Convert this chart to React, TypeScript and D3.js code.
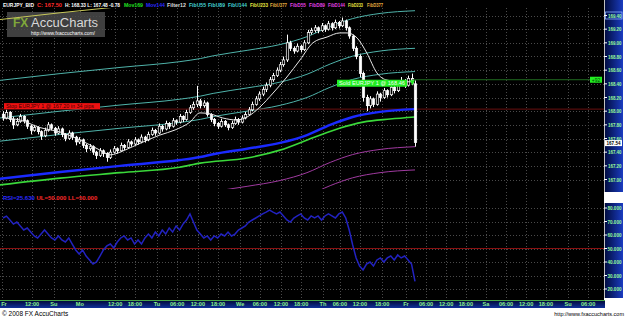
import React from "react";
import * as d3 from "d3";

const W = 625;
const H = 318;

// [open, high, low, close] per hourly bar
const candles: [number, number, number, number][] = [
  [167.95, 168.00, 167.86, 167.90], [167.90, 168.02, 167.88, 167.98], [167.98, 168.00, 167.84, 167.88],
  [167.88, 167.92, 167.74, 167.80], [167.80, 167.90, 167.78, 167.85], [167.85, 167.96, 167.83, 167.92],
  [167.92, 167.94, 167.82, 167.86], [167.86, 167.88, 167.74, 167.78], [167.78, 167.80, 167.66, 167.72],
  [167.72, 167.80, 167.70, 167.76], [167.76, 167.78, 167.66, 167.70], [167.70, 167.72, 167.58, 167.64],
  [167.64, 167.76, 167.62, 167.72], [167.72, 167.84, 167.70, 167.80], [167.80, 167.82, 167.72, 167.75],
  [167.75, 167.77, 167.64, 167.68], [167.68, 167.78, 167.66, 167.74], [167.74, 167.76, 167.62, 167.66],
  [167.66, 167.68, 167.56, 167.60], [167.60, 167.72, 167.58, 167.68], [167.68, 167.70, 167.58, 167.62],
  [167.62, 167.64, 167.50, 167.55], [167.55, 167.62, 167.52, 167.58], [167.58, 167.60, 167.46, 167.50],
  [167.50, 167.52, 167.40, 167.45], [167.45, 167.52, 167.42, 167.48], [167.48, 167.50, 167.36, 167.40],
  [167.40, 167.42, 167.30, 167.35], [167.35, 167.46, 167.33, 167.42], [167.42, 167.44, 167.33, 167.38],
  [167.38, 167.40, 167.26, 167.32], [167.32, 167.44, 167.30, 167.40], [167.40, 167.49, 167.38, 167.45],
  [167.45, 167.47, 167.38, 167.42], [167.42, 167.54, 167.40, 167.50], [167.50, 167.52, 167.43, 167.47],
  [167.47, 167.59, 167.45, 167.55], [167.55, 167.57, 167.48, 167.52], [167.52, 167.62, 167.50, 167.58],
  [167.58, 167.60, 167.51, 167.55], [167.55, 167.66, 167.53, 167.62], [167.62, 167.64, 167.54, 167.58],
  [167.58, 167.70, 167.56, 167.66], [167.66, 167.76, 167.64, 167.72], [167.72, 167.74, 167.64, 167.68],
  [167.68, 167.82, 167.66, 167.78], [167.78, 167.80, 167.70, 167.74], [167.74, 167.86, 167.72, 167.82],
  [167.82, 167.84, 167.74, 167.78], [167.78, 167.90, 167.76, 167.86], [167.86, 167.88, 167.80, 167.84],
  [167.84, 167.96, 167.82, 167.92], [167.92, 167.94, 167.84, 167.88], [167.88, 168.02, 167.86, 167.98],
  [167.98, 168.09, 167.96, 168.05], [168.05, 168.14, 168.02, 168.10], [168.10, 168.37, 168.06, 168.15],
  [168.15, 168.18, 168.04, 168.08], [168.08, 168.16, 168.05, 168.12], [168.12, 168.14, 167.92, 167.95],
  [167.95, 167.97, 167.84, 167.88], [167.88, 167.90, 167.78, 167.82], [167.82, 167.84, 167.74, 167.78],
  [167.78, 167.89, 167.76, 167.85], [167.85, 167.87, 167.77, 167.80], [167.80, 167.82, 167.72, 167.76],
  [167.76, 167.86, 167.74, 167.82], [167.82, 167.92, 167.80, 167.88], [167.88, 167.90, 167.80, 167.84],
  [167.84, 167.94, 167.82, 167.90], [167.90, 167.99, 167.88, 167.95], [167.95, 168.06, 167.93, 168.02],
  [168.02, 168.14, 168.00, 168.10], [168.10, 168.22, 168.08, 168.18], [168.18, 168.29, 168.15, 168.25],
  [168.25, 168.36, 168.22, 168.32], [168.32, 168.42, 168.28, 168.38], [168.38, 168.50, 168.35, 168.46],
  [168.46, 168.56, 168.43, 168.52], [168.52, 168.64, 168.50, 168.60], [168.60, 168.72, 168.57, 168.68],
  [168.68, 168.80, 168.65, 168.75], [168.75, 169.12, 168.72, 169.00], [169.00, 169.03, 168.88, 168.92],
  [168.92, 168.95, 168.84, 168.88], [168.88, 168.99, 168.86, 168.95], [168.95, 168.97, 168.86, 168.90],
  [168.90, 169.04, 168.88, 169.00], [169.00, 169.19, 168.98, 169.15], [169.15, 169.22, 169.12, 169.18],
  [169.18, 169.26, 169.15, 169.22], [169.22, 169.24, 169.14, 169.18], [169.18, 169.29, 169.16, 169.25],
  [169.25, 169.27, 169.16, 169.20], [169.20, 169.32, 169.18, 169.28], [169.28, 169.30, 169.18, 169.22],
  [169.22, 169.34, 169.20, 169.30], [169.30, 169.32, 169.21, 169.25], [169.25, 169.37, 169.23, 169.32],
  [169.32, 169.34, 169.18, 169.22], [169.22, 169.24, 169.06, 169.10], [169.10, 169.12, 168.88, 168.92],
  [168.92, 168.95, 168.76, 168.80], [168.80, 168.83, 168.50, 168.55], [168.55, 168.58, 168.14, 168.20],
  [168.20, 168.24, 168.00, 168.08], [168.08, 168.22, 168.04, 168.18], [168.18, 168.20, 168.06, 168.10],
  [168.10, 168.29, 168.08, 168.25], [168.25, 168.27, 168.14, 168.20], [168.20, 168.34, 168.18, 168.30],
  [168.30, 168.32, 168.20, 168.24], [168.24, 168.39, 168.22, 168.35], [168.35, 168.37, 168.26, 168.30],
  [168.30, 168.44, 168.28, 168.40], [168.40, 168.50, 168.37, 168.45], [168.45, 168.47, 168.34, 168.38],
  [168.38, 168.52, 168.36, 168.48], [168.48, 168.55, 168.38, 168.42], [168.40, 168.45, 167.48, 167.54],
];

// [bar, price] points
const mov144: [number, number][] = [
  [-1, 167.01], [16.5, 167.11], [33.8, 167.2], [51.1, 167.285], [57, 167.33], [60.7, 167.37],
  [70.5, 167.45], [80, 167.535], [87.8, 167.65], [94.5, 167.8], [101, 167.915], [108.9, 167.99], [119, 168.03],
];
const mov169: [number, number][] = [
  [-1, 166.92], [16.5, 167.02], [33.8, 167.1], [51, 167.18], [57, 167.24], [70.5, 167.315],
  [80, 167.43], [89.5, 167.61], [97.4, 167.755], [104, 167.84], [111.8, 167.885], [119, 167.915],
];
const filter12: [number, number][] = [
  [0, 167.9], [4.9, 167.87], [10.7, 167.76], [16.5, 167.695], [22.2, 167.58], [28, 167.43],
  [30.9, 167.36], [35.2, 167.43], [39.6, 167.53], [45.3, 167.65], [49.7, 167.725], [54, 167.84],
  [56.9, 167.975], [59.8, 167.96], [63.5, 167.9], [67.6, 167.87], [70.5, 167.915], [74.2, 168.06],
  [78, 168.265], [82, 168.5], [85.8, 168.75], [89.5, 169.0], [93.6, 169.085], [97.3, 169.145],
  [99.4, 169.145], [102.3, 169.07], [105.1, 168.85], [108, 168.56], [110.9, 168.455], [115.5, 168.43],
  [118.1, 168.43], [119.3, 168.31],
];

const rsi: number[] = [
  72.6, 74, 71.1, 68.1, 69.6, 66.7, 63.7, 65.2, 62.2, 59.3,
  57.8, 60.7, 63.7, 60.7, 57.8, 56.3, 59.3, 56.3, 54.8, 57.8,
  53.3, 48.9, 45.9, 48.9, 44.4, 41.5, 38.5, 40, 44.4, 48.9,
  51.9, 53.3, 50.4, 54.8, 57.8, 59.3, 56.3, 57.8, 53.3, 56.3,
  53.3, 57.8, 60.7, 57.8, 62.2, 59.3, 63.7, 60.7, 65.2, 62.2,
  66.7, 63.7, 68.1, 71.1, 75.6, 69.6, 63.7, 60.7, 57.8, 59.3,
  56.3, 59.3, 57.8, 60.7, 59.3, 62.2, 59.3, 60.7, 63.7, 65.2,
  66.7, 69.6, 71.1, 72.6, 74.1, 75.6, 77, 78.5, 77, 75.6,
  77, 74.1, 71.1, 69.6, 72.6, 74.1, 75.6, 72.6, 71.1, 74.1,
  72.6, 74.1, 71.1, 74.1, 75.6, 74.1, 72.6, 75.6, 77, 72.6,
  63.7, 52.6, 43, 37, 34.1, 38.5, 40, 37, 41.5, 43,
  40, 43, 44.4, 41.5, 45.2, 43, 44.4, 41.5, 38.5, 25.63,
];

const fibOffsets = [0.55, 0.89, 1.44, 2.33, 3.77];
const fibUpColors = ["#4fb3aa", "#4fb3aa", "#4fb3aa", "#c8c85a", "#c8a04a"];
const fibDownColors = ["#a03aa0", "#a03aa0", "#a03aa0", "#c8c85a", "#c8a04a"];

const priceTicks = [169.4, 169.2, 169.0, 168.8, 168.6, 168.4, 168.2, 168.0, 167.8, 167.6, 167.4, 167.2, 167.0];
const rsiTicks = [80, 70, 60, 50, 40, 30, 20];

// [label, bar position]
const timeTicks: [string, number][] = [
  ["Fr", -0.3], ["12:00", 8.4], ["Su", 14.7], ["Mo", 22.2], ["12:00", 32.4], ["18:00", 38.1],
  ["Tu", 44.5], ["06:00", 50.3], ["12:00", 56.3], ["18:00", 62.1], ["We", 68.5], ["06:00", 74.2],
  ["12:00", 80.3], ["18:00", 86.1], ["Th", 92.4], ["06:00", 97.3], ["12:00", 103.1], ["18:00", 109.5],
  ["Fr", 116.4], ["06:00", 122.2], ["12:00", 128], ["18:00", 133.7], ["Sa", 139.5], ["06:00", 145.3],
  ["12:00", 151.1], ["18:00", 156.8], ["Su", 163.2], ["06:00", 169],
];

// [text, colour, x, width]
const headerParts: [string, string, number, number][] = [
  ["EURJPY_BID", "#ffffff", 3, 31], ["C: 167.50", "#ff2a2a", 37, 25], ["H: 168.33 L: 167.48 -0.78", "#ffffff", 65, 55],
  ["Mov169", "#22e022", 124, 19], ["Mov144", "#2a2aff", 146, 19], ["Filter12", "#dddddd", 167, 19],
  ["FibU55", "#44d4d4", 189, 17], ["FibU89", "#44d4d4", 208, 17], ["FibU144", "#44d4d4", 228, 19],
  ["FibU233", "#e8e840", 250, 18], ["FibU377", "#e8b040", 270, 17], ["FibD55", "#e040e0", 290, 16],
  ["FibD89", "#e040e0", 309, 16], ["FibD144", "#e040e0", 328, 17], ["FibD233", "#e8e840", 348, 15],
  ["FibD377", "#e8b040", 367, 16],
];

const soldPrice = 168.46;
const refLinePrice = 168.03;
const lastPrice = 167.54;
const rsiLevel = 50;

export default function App() {
  const x = d3.scaleLinear().domain([0, 119]).range([3, 415]);
  const yP = d3.scaleLinear().domain([167, 169.4]).range([179.5, 15.5]);
  const yR = d3.scaleLinear().domain([20, 80]).range([289, 208]);

  const line = d3
    .line<[number, number]>()
    .x((d) => x(d[0]))
    .y((d) => yP(d[1]))
    .curve(d3.curveMonotoneX);

  const fibUp = fibOffsets.map((o) => mov144.map(([b, p]) => [b, p + o] as [number, number]));
  const fibDown = fibOffsets.map((o) => mov144.map(([b, p]) => [b, p - o] as [number, number]));

  const rsiLine = d3
    .line<number>()
    .x((_, i) => x(i))
    .y((d) => yR(d))
    .curve(d3.curveLinear);

  const mainTop = 8;
  const mainBot = 189;
  const rsiTop = 192;
  const rsiBot = 300;
  const axisX = 604;
  const font = "'Liberation Sans', Arial, sans-serif";

  return (
    <svg width={W} height={H} style={{ position: "absolute", left: 0, top: 0, display: "block" }}>
      <defs>
        <linearGradient id="axisGrad" x1="0" x2="1" y1="0" y2="0">
          <stop offset="0" stopColor="#000a3a" />
          <stop offset="1" stopColor="#1a3cc0" />
        </linearGradient>
        <linearGradient id="timeGrad" x1="0" x2="0" y1="0" y2="1">
          <stop offset="0" stopColor="#000530" />
          <stop offset="1" stopColor="#10309a" />
        </linearGradient>
        <clipPath id="mainClip">
          <rect x={0} y={mainTop} width={axisX} height={mainBot - mainTop} />
        </clipPath>
        <clipPath id="rsiClip">
          <rect x={0} y={rsiTop} width={axisX} height={rsiBot - rsiTop} />
        </clipPath>
      </defs>
      <rect x={0} y={0} width={W} height={H} fill="#ffffff" />
      <rect x={0} y={0} width={axisX} height={rsiBot} fill="#000000" />

      {/* grids */}
      <g stroke="#4a4a4a" strokeWidth={1} strokeDasharray="1,2">
        {priceTicks.map((p) => (
          <line key={"hp" + p} x1={0} x2={axisX} y1={Math.round(yP(p)) + 0.5} y2={Math.round(yP(p)) + 0.5} />
        ))}
        {rsiTicks.map((r) => (
          <line key={"hr" + r} x1={0} x2={axisX} y1={Math.round(yR(r)) + 0.5} y2={Math.round(yR(r)) + 0.5} />
        ))}
        {timeTicks.map(([, b], i) => (
          <g key={"v" + i}>
            <line x1={Math.round(x(b)) + 0.5} x2={Math.round(x(b)) + 0.5} y1={mainTop} y2={mainBot} />
            <line x1={Math.round(x(b)) + 0.5} x2={Math.round(x(b)) + 0.5} y1={rsiTop} y2={rsiBot} />
          </g>
        ))}
      </g>

      {/* watermark */}
      <g>
        <rect x={7} y={12} width={98} height={25} fill="#4a4a4a" opacity={0.85} />
        <text x={13} y={27} fontFamily={font} fontWeight="bold" fontSize={12} fill="#7fa83a">FX</text>
        <text x={31} y={27} fontFamily={font} fontSize={12} fill="#d8d8d8" textLength={67} lengthAdjust="spacingAndGlyphs">AccuCharts</text>
        <text x={31} y={34.5} fontFamily={font} fontSize={4.5} fill="#ffffff" textLength={64} lengthAdjust="spacingAndGlyphs">http://www.fxaccucharts.com/</text>
      </g>

      {/* main panel lines */}
      <g clipPath="url(#mainClip)" fill="none">
        {fibUp.map((pts, i) => (
          <path key={"fu" + i} d={line(pts) || ""} stroke={fibUpColors[i]} strokeWidth={1} />
        ))}
        {fibDown.map((pts, i) => (
          <path key={"fd" + i} d={line(pts) || ""} stroke={fibDownColors[i]} strokeWidth={1} />
        ))}
        <line x1={0} x2={axisX} y1={yP(refLinePrice)} y2={yP(refLinePrice)} stroke="#6a1010" strokeWidth={1} />
        <path d={line(mov169) || ""} stroke="#3ad83a" strokeWidth={1.6} />
        <path d={line(mov144) || ""} stroke="#1a2aff" strokeWidth={2.4} />

        {candles.map(([o, h, l, c], i) => {
          const cx = Math.round(x(i)) + 0.5;
          const top = yP(Math.max(o, c));
          const bot = yP(Math.min(o, c));
          const up = c > o;
          return (
            <g key={"c" + i}>
              <line x1={cx} x2={cx} y1={yP(h)} y2={yP(l)} stroke="#ffffff" strokeWidth={1} />
              <rect
                x={cx - 1.2}
                y={top}
                width={2.4}
                height={Math.max(1, bot - top)}
                fill={up ? "#000000" : "#ffffff"}
                stroke="#ffffff"
                strokeWidth={0.7}
              />
            </g>
          );
        })}
        <path d={line(filter12) || ""} stroke="#e8e8e8" strokeWidth={1} />
      </g>

      {/* trade markers */}
      <line x1={x(119) - 3} x2={590} y1={yP(soldPrice)} y2={yP(soldPrice)} stroke="#1f6a1f" strokeWidth={1} />
      <rect x={337} y={yP(soldPrice)} width={70} height={7} fill="#22ee22" />
      <text x={339} y={yP(soldPrice) + 5.6} fontFamily={font} fontSize={6} fill="#f4fff4" textLength={66} lengthAdjust="spacingAndGlyphs">
        Sold EURJPY 1 @ 168.46
      </text>
      <path d={`M${x(117.5)},${yP(soldPrice) + 0.5} l5,0 l-2.5,5 z`} fill="#22ee22" />
      <rect x={590} y={yP(soldPrice) - 3} width={12} height={6} fill="#22ee22" />
      <text x={596} y={yP(soldPrice) + 1.8} textAnchor="middle" fontFamily={font} fontSize={5} fill="#004000">+92</text>

      <rect x={4} y={yP(refLinePrice) - 6} width={96} height={6} fill="#ee1111" />
      <text x={6} y={yP(refLinePrice) - 1.2} fontFamily={font} fontSize={5.5} fill="#400000" textLength={88} lengthAdjust="spacingAndGlyphs">
        Stop EURJPY 1 @ 167.20 in 34 pips
      </text>

      {/* RSI panel */}
      <g clipPath="url(#rsiClip)" fill="none">
        <line x1={0} x2={axisX} y1={yR(rsiLevel)} y2={yR(rsiLevel)} stroke="#8a1010" strokeWidth={1} />
        <path d={rsiLine(rsi) || ""} stroke="#2222c0" strokeWidth={1.5} />
      </g>
      <text x={3} y={200} fontFamily={font} fontWeight="bold" fontSize={6}>
        <tspan fill="#2a2aff">RSI=25.630 </tspan>
        <tspan fill="#ff2a2a">UL=50.000 LL=50.000</tspan>
      </text>

      {/* header */}
      <g fontFamily={font} fontWeight="bold" fontSize={6}>
        {headerParts.map(([t, c, px, w], i) => (
          <text key={"h" + i} x={px} y={6.5} fill={c} textLength={w} lengthAdjust="spacingAndGlyphs">{t}</text>
        ))}
      </g>

      {/* price axis */}
      <rect x={axisX} y={0} width={19} height={rsiTop} fill="url(#axisGrad)" />
      <line x1={axisX + 0.5} x2={axisX + 0.5} y1={0} y2={rsiTop} stroke="#c0c0c0" />
      <rect x={605.5} y={yP(169.4) - 3.5} width={16.5} height={7} fill="none" stroke="#8ab0ff" strokeWidth={0.8} />
      {priceTicks.map((p) => (
        <g key={"pt" + p}>
          <line x1={axisX} x2={axisX + 3} y1={yP(p)} y2={yP(p)} stroke="#ffffff" />
          <text x={608} y={yP(p) + 2} fontFamily={font} fontWeight="bold" fontSize={5.2} fill="#9cff9c" textLength={13.5} lengthAdjust="spacingAndGlyphs">{p.toFixed(2)}</text>
        </g>
      ))}
      <rect x={605} y={yP(lastPrice) - 2.5} width={17} height={6} fill="#ffffff" />
      <text x={606.5} y={yP(lastPrice) + 2.2} fontFamily={font} fontWeight="bold" fontSize={5.2} fill="#000000" textLength={14} lengthAdjust="spacingAndGlyphs">{lastPrice.toFixed(2)}</text>

      {/* rsi axis */}
      <rect x={axisX} y={203} width={19} height={95} fill="url(#axisGrad)" />
      <line x1={axisX + 0.5} x2={axisX + 0.5} y1={203} y2={298} stroke="#c0c0c0" />
      {rsiTicks.map((r) => (
        <g key={"rt" + r}>
          <line x1={axisX} x2={axisX + 3} y1={yR(r)} y2={yR(r)} stroke="#ffffff" />
          <text x={607.5} y={yR(r) + 2} fontFamily={font} fontWeight="bold" fontSize={5.4} fill="#9cff9c" textLength={14} lengthAdjust="spacingAndGlyphs">{r.toFixed(3)}</text>
        </g>
      ))}

      {/* time axis */}
      <rect x={0} y={300} width={axisX + 1} height={8} fill="url(#timeGrad)" />
      <line x1={0} x2={axisX + 1} y1={300.5} y2={300.5} stroke="#4aa84a" />
      {timeTicks.map(([l, b], i) => (
        <text key={"tl" + i} x={Math.max(x(b), 4)} y={306.3} textAnchor="middle" fontFamily={font} fontWeight="bold" fontSize={5.6} fill="#8cf08c">
          {l}
        </text>
      ))}

      <text x={2} y={316} fontFamily={font} fontSize={6.5} fill="#000000">© 2008 FX AccuCharts</text>
      <text x={624} y={316} textAnchor="end" fontFamily={font} fontSize={5.5} fill="#000000">http://www.fxaccucharts.com</text>
    </svg>
  );
}
